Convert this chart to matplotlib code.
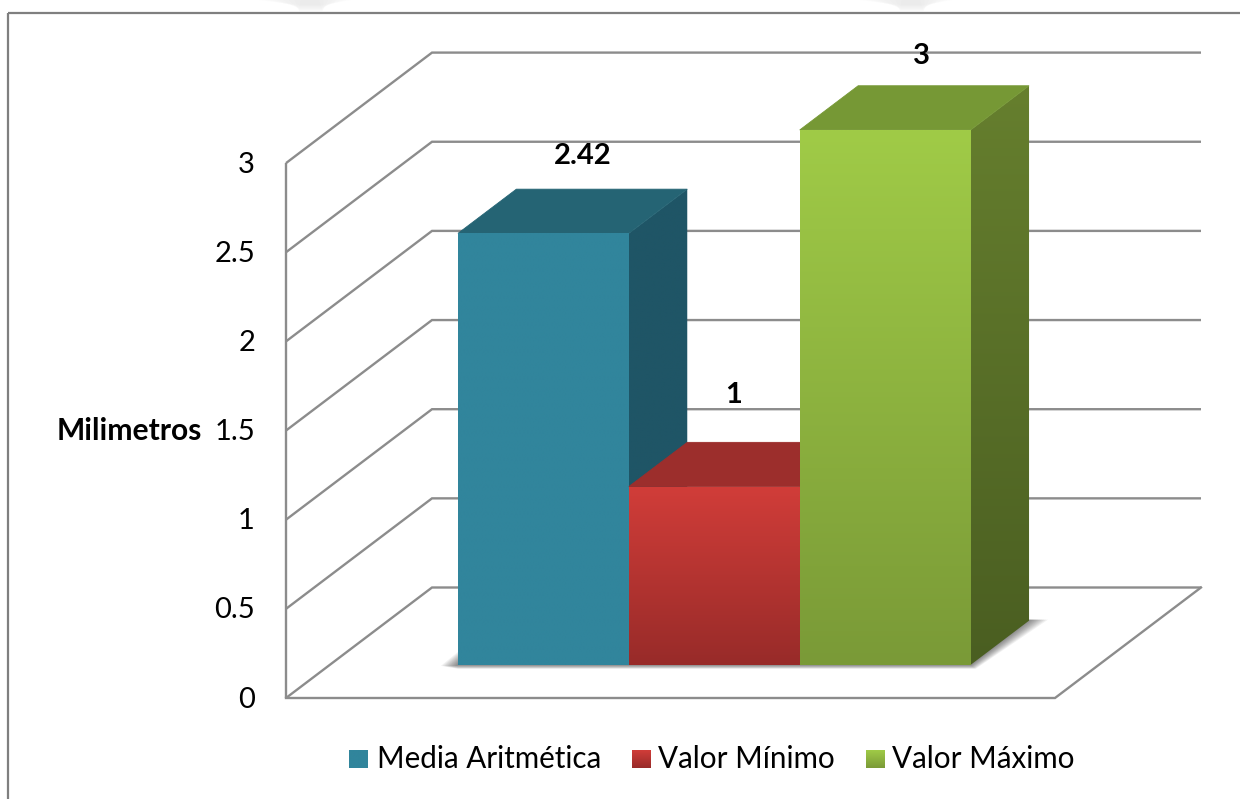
import numpy as np
import matplotlib
matplotlib.use("Agg")
import matplotlib.pyplot as plt
from matplotlib.colors import LinearSegmentedColormap
from matplotlib.patches import Polygon

# ---- data ----
series_names = ["Media Aritmética", "Valor Mínimo", "Valor Máximo"]
series_values = [2.42, 1, 3]
value_labels = ["2.42", "1", "3"]
y_ticks = [0, 0.5, 1, 1.5, 2, 2.5, 3]
y_tick_labels = ["0", "0.5", "1", "1.5", "2", "2.5", "3"]
y_title = "Milimetros"

# ---- styles ----
front_top = ["#31859C", "#D13D39", "#A0CB47"]
front_bot = ["#31859C", "#982B29", "#7A9A37"]
top_col = ["#256474", "#9C2E2C", "#769835"]
side_top = ["#1F5566", "#7A2422", "#667F2E"]
side_bot = ["#1F5566", "#5C1B1A", "#4A5E21"]
label_dx = [39, 19, 36]
label_dy = [-33, -47, -30]
GRID = "#8C8C8C"
FONT = ["Lato", "DejaVu Sans"]

W, H = 1240, 799
fig = plt.figure(figsize=(W / 100, H / 100), dpi=100, facecolor="white")
ax = fig.add_axes([0, 0, 1, 1])
ax.set_axis_off()

# oblique projection of the 3-D frame
X0, Y0 = 286, 698      # front-left floor corner
FW = 769               # floor width
DX, DY = 146, 110.5    # depth offset
UNIT = 178.3           # pixels per value unit


def proj(x, y, d):
    return X0 + x * FW + d * DX, Y0 - y * UNIT - d * DY


def grad(poly, c0, c1, y0, y1, z):
    cmap = LinearSegmentedColormap.from_list("g", [c0, c1])
    xs = [p[0] for p in poly]
    im = ax.imshow(np.linspace(0, 1, 256)[:, None], cmap=cmap, aspect="auto",
                   extent=(min(xs), max(xs), y1, y0), zorder=z, interpolation="bilinear")
    im.set_clip_path(Polygon(poly, closed=True, transform=ax.transData))


# outer frame
ax.plot([7.5, 7.5], [H, 12.8], color="#7F7F7F", lw=1.6, zorder=1, solid_capstyle="butt")
ax.plot([7.5, W], [12.8, 12.8], color="#7F7F7F", lw=1.6, zorder=1, solid_capstyle="butt")

# faint background marks above the frame
for cx in (311, 912):
    for k in np.linspace(1, 0.2, 8):
        ax.add_patch(Polygon([(cx - 52 * k, 0), (cx + 40 * k, 0), (cx + 12, 4 + 8 * (1 - k) + 1),
                              (cx - 12, 4 + 8 * (1 - k) + 1)],
                             closed=True, fc="#BDBDBD", ec="none", alpha=0.035, zorder=0.5))

# walls and gridlines
lw_grid = 1.7
for v in y_ticks:
    x0, y0 = proj(0, v, 0)
    x1, y1 = proj(0, v, 1)
    x2, y2 = proj(1, v, 1)
    ax.plot([x0, x1, x2], [y0, y1, y2], color=GRID, lw=lw_grid, zorder=2,
            solid_joinstyle="miter", solid_capstyle="butt")
xa, ya = proj(0, 0, 0)
xb, yb = proj(0, y_ticks[-1], 0)
ax.plot([xa, xb], [ya, yb], color=GRID, lw=lw_grid, zorder=2, solid_capstyle="butt")
xc, yc = proj(1, 0, 0)
xd, yd = proj(1, 0, 1)
ax.plot([xa, xc, xd], [ya, yc, yd], color=GRID, lw=lw_grid, zorder=2, solid_joinstyle="miter")

# bar geometry: one category, gap 1/6 each side
n = len(series_values)
bw = (2 / 3) / n
D0, D1 = 0.3, 0.7

# soft shadow on the floor
sx0, sy0 = proj(1 / 6, 0, D0)
sx1, sy1 = proj(5 / 6, 0, D0)
sx2, sy2 = proj(5 / 6, 0, D1)
for t in np.linspace(1, 0.1, 10):
    ax.add_patch(Polygon([(sx0 - 17 * t, sy0 + 1), (sx0, sy0 - 13 * t), (sx1, sy0 - 13 * t),
                          (sx2, sy2 - 1), (sx2 + 19 * t, sy2 - 1), (sx1 + 5 * t, sy1 + 4 * t),
                          (sx0, sy0 + 4 * t)],
                         closed=True, fc="black", ec="none", alpha=0.055, zorder=2.5))

for i, v in enumerate(series_values):
    z = 3 + i
    x0, x1 = 1 / 6 + i * bw, 1 / 6 + (i + 1) * bw
    fbl, fbr = proj(x0, 0, D0), proj(x1, 0, D0)
    ftl, ftr = proj(x0, v, D0), proj(x1, v, D0)
    btl, btr = proj(x0, v, D1), proj(x1, v, D1)
    bbr = proj(x1, 0, D1)
    # side face
    grad([fbr, ftr, btr, bbr], side_top[i], side_bot[i], btr[1], fbr[1], z)
    # top face
    ax.add_patch(Polygon([ftl, ftr, btr, btl], closed=True, fc=top_col[i], ec=top_col[i],
                         lw=0.6, zorder=z + 0.1))
    # front face
    grad([fbl, fbr, ftr, ftl], front_top[i], front_bot[i], ftl[1], fbl[1], z + 0.2)
    # value label
    ax.text((fbl[0] + fbr[0]) / 2 + label_dx[i], btl[1] + label_dy[i], value_labels[i],
            ha="center", va="center", fontsize=21, fontweight="bold", color="black",
            family=FONT, zorder=10)

# value axis labels
for v, lab in zip(y_ticks, y_tick_labels):
    px, py = proj(0, v, 0)
    ax.text(px - 31, py + 1.5, lab, ha="right", va="center", fontsize=21, color="black",
            family=FONT, zorder=10)
ax.text(202, 431, y_title, ha="right", va="center", fontsize=21.6, fontweight="bold",
        color="black", family=FONT, zorder=10)

# legend
sw_x = [349, 632, 866]
txt_x = [377, 658, 892]
for i, name in enumerate(series_names):
    sq = [(sw_x[i], 750), (sw_x[i] + 18.5, 750), (sw_x[i] + 18.5, 768), (sw_x[i], 768)]
    grad(sq, front_top[i], front_bot[i], 750, 768, 6)
    ax.text(txt_x[i], 759.5, name, ha="left", va="center", fontsize=21.3, color="black",
            family=FONT, zorder=10)

ax.set_xlim(0, W)
ax.set_ylim(H, 0)
fig.savefig("out.png", dpi=100, facecolor="white")
